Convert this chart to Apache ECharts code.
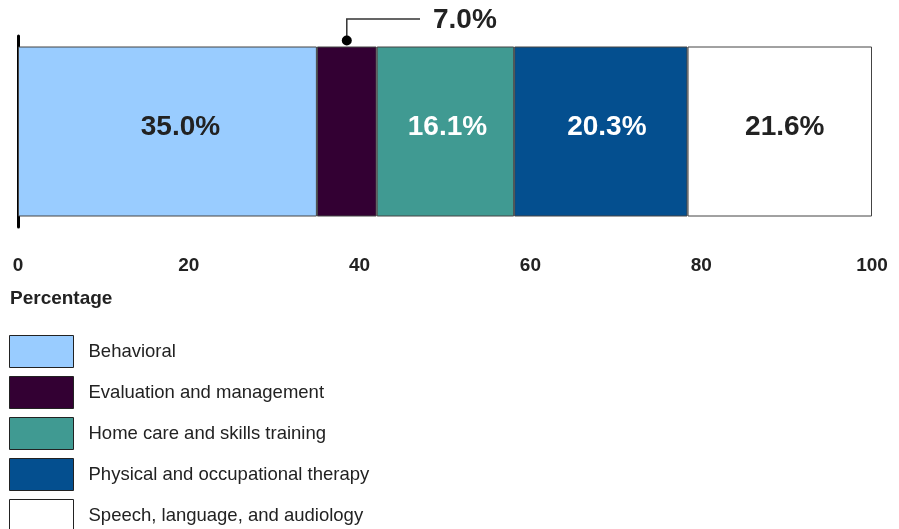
<!DOCTYPE html>
<html>
<head>
<meta charset="utf-8">
<script src="https://cdn.jsdelivr.net/npm/echarts@6/dist/echarts.min.js"></script>
<style>
  html, body { margin: 0; padding: 0; background: #fff; }
  #chart { width: 899px; height: 529px; }
</style>
</head>
<body>
<div id="chart"></div>
<script>
  // data
  var categories = ['All']
  var seriesNames = [
    'Behavioral',
    'Evaluation and management',
    'Home care and skills training',
    'Physical and occupational therapy',
    'Speech, language, and audiology',
  ]
  var values = [35.0, 7.0, 16.1, 20.3, 21.6]
  var colors = ['#99CCFF', '#330033', '#409A92', '#044F8F', '#FFFFFF']
  var labelColors = ['#222', '#fff', '#fff', '#fff', '#222']
  var labelShift = [13, 0, 2, 6, 5]
  var xTicks = [0, 20, 40, 60, 80, 100]

  var font = 'Arial, "Liberation Sans", sans-serif'
  var chart = echarts.init(document.getElementById('chart'))

  var series = []
  for (var i = 0; i < values.length; i++) {
    series.push({
      name: seriesNames[i],
      type: 'bar',
      stack: 'total',
      barWidth: 170,
      data: [values[i]],
      itemStyle: { color: colors[i], borderColor: '#444', borderWidth: 1 },
      label: {
        // the small slice gets a callout instead
        show: i !== 1,
        position: 'inside',
        offset: [labelShift[i], -4],
        formatter: function (p) { return p.value.toFixed(1) + '%' },
        fontFamily: font,
        fontSize: 28,
        fontWeight: 'bold',
        color: labelColors[i],
      },
      emphasis: { disabled: true },
    })
  }

  var option = {
    animation: false,
    textStyle: { fontFamily: font },
    title: {
      text: 'Percentage',
      left: 5,
      top: 284,
      textStyle: { fontFamily: font, fontSize: 19, fontWeight: 'bold', color: '#222' },
    },
    grid: { left: 18, right: 27, top: 36, height: 191 },
    xAxis: {
      type: 'value',
      min: 0,
      max: 100,
      interval: 20,
      axisLine: { show: false },
      axisTick: { show: false },
      splitLine: { show: false },
      axisLabel: {
        margin: 29,
        fontFamily: font,
        fontSize: 19,
        fontWeight: 'bold',
        color: '#222',
        formatter: function (v) { return xTicks.indexOf(v) >= 0 ? String(v) : '' },
      },
    },
    yAxis: {
      type: 'category',
      data: categories,
      axisLine: { show: true, lineStyle: { color: '#000', width: 3 } },
      axisTick: { show: false },
      axisLabel: { show: false },
    },
    legend: {
      orient: 'vertical',
      left: 9,
      top: 335,
      height: 400,
      padding: 0,
      itemWidth: 64,
      itemHeight: 32,
      itemGap: 8,
      icon: 'rect',
      selectedMode: false,
      itemStyle: { borderColor: '#222', borderWidth: 1 },
      textStyle: { fontFamily: font, fontSize: 18.5, color: '#222', padding: [3, 0, 0, 10] },
      data: seriesNames,
    },
    series: series,
  }
  chart.setOption(option)

  // callout for the 7.0% slice, placed through the axis scale
  var start = values[0]
  var mid = start + values[1] / 2
  var px = chart.convertToPixel({ gridIndex: 0 }, [mid, 0])
  var topY = px[1] - 85
  chart.setOption({
    graphic: [
      {
        type: 'polyline',
        shape: { points: [[px[0], topY - 6], [px[0], 19], [420, 19]] },
        style: { stroke: '#333', lineWidth: 1.5, fill: null },
      },
      {
        type: 'circle',
        shape: { cx: px[0], cy: topY - 6, r: 5 },
        style: { fill: '#000' },
      },
      {
        type: 'text',
        x: 433,
        y: 20,
        style: {
          text: values[1].toFixed(1) + '%',
          font: 'bold 28px ' + font,
          fill: '#222',
          textVerticalAlign: 'middle',
        },
      },
    ],
  })
</script>
</body>
</html>
